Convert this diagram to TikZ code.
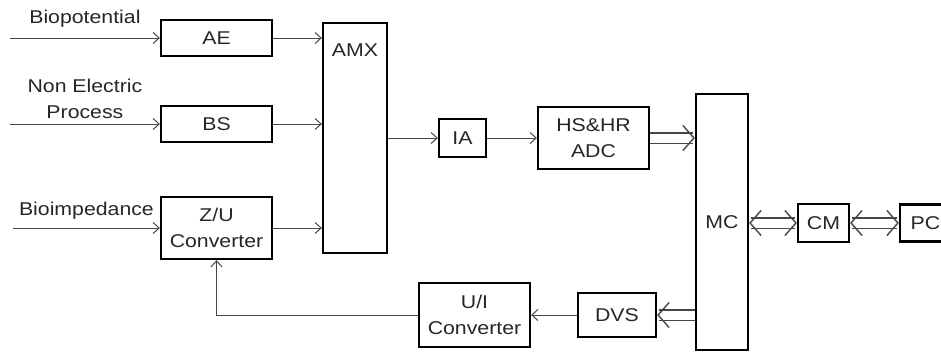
\documentclass[tikz,border=0pt]{standalone}
\usepackage{fontspec}
\setmainfont{Liberation Sans}[FakeStretch=1.15]
\usetikzlibrary{arrows.meta, positioning, calc}
\definecolor{wiregray}{RGB}{70,70,70}

\begin{document}
\begin{tikzpicture}[
  x=1pt, y=-1pt,
  every node/.style={font=\fontsize{18.5}{26}\selectfont, text=black!85},
  block/.style={
    draw=black, line width=2.3pt, align=center, inner sep=0pt
  },
  wire/.style={-{Straight Barb[length=6pt, width=11pt]}, line width=1pt, draw=wiregray},
  bus/.style={double=white, double distance=9pt, line width=1.4pt, draw=wiregray,
    -{Straight Barb[length=11pt, width=25pt, line width=1.4pt]}},
  dbus/.style={bus, {Straight Barb[length=11pt, width=25pt, line width=1.4pt]}-{Straight Barb[length=11pt, width=25pt, line width=1.4pt]}},
  inlabel/.style={align=center, inner sep=1pt}
]
  \useasboundingbox (0,0) rectangle (941,354);
  \clip (0,0) rectangle (941,354);

  % input stages
  \node[block, minimum width=111pt, minimum height=36pt] (ae) at (216.5,38) {AE};
  \node[block, minimum width=111pt, minimum height=36pt] (bs) at (216.5,124) {BS};
  \node[block, minimum width=111pt, minimum height=62pt] (zu) at (216.5,228) {Z/U\\Converter};

  % multiplexer and conversion chain
  \node[block, minimum width=64pt, minimum height=230pt] (amx) at (355,138) {};
  \node (amxlbl) at (355,50) {AMX};
  \node[block, minimum width=47pt, minimum height=38pt] (ia) at (462.5,138) {IA};
  \node[block, minimum width=111pt, minimum height=62pt] (adc) at (593.5,138) {HS\&HR\\ADC};

  % controller and outputs
  \node[block, minimum width=52pt, minimum height=256pt] (mc) at (722,222) {MC};
  \node[block, minimum width=51pt, minimum height=38pt] (cm) at (823.5,223) {CM};
  \node[block, minimum width=51pt, minimum height=37pt] (pc) at (925.5,223) {PC};
  \node[block, minimum width=78pt, minimum height=44pt] (dvs) at (617,315) {DVS};
  \node[block, minimum width=111pt, minimum height=64pt] (ui) at (474.5,315) {U/I\\Converter};

  % signal sources
  \coordinate (biopot) at (10,38);
  \coordinate (nonel) at (10,124);
  \coordinate (bioimp) at (13,228);

  \draw[wire] (biopot) -- (ae.west)
    node[inlabel, midway, above=9pt] {Biopotential};
  \draw[wire] (nonel) -- (bs.west)
    node[inlabel, midway, above=4pt] {Non Electric\\Process};
  \draw[wire] (bioimp) -- (zu.west)
    node[inlabel, midway, above=7pt] {Bioimpedance};

  % into the multiplexer
  \draw[wire] (ae.east) -- (ae.east -| amx.west);
  \draw[wire] (bs.east) -- (bs.east -| amx.west);
  \draw[wire] (zu.east) -- (zu.east -| amx.west);

  \draw[wire] (amx.east |- ia) -- (ia.west);
  \draw[wire] (ia.east) -- (adc.west);
  \draw[bus] (adc.east) -- (adc.east -| mc.west);

  % communication
  \draw[dbus] (mc.east |- cm) -- (cm.west);
  \draw[dbus] (cm.east) -- (pc.west);

  % feedback path
  \draw[bus] (mc.west |- dvs) -- (dvs.east);
  \draw[wire] (dvs.west) -- (ui.east);
  \draw[wire] (ui.west) -| (zu.south);

\end{tikzpicture}
\end{document}
